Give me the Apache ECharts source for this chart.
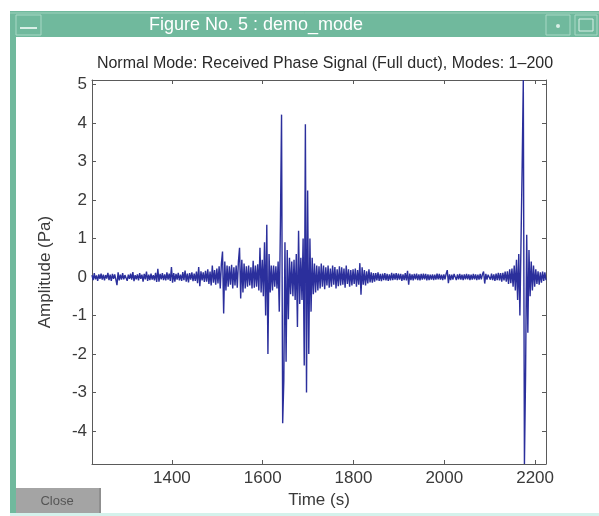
<!DOCTYPE html>
<html>
<head>
<meta charset="utf-8">
<script src="https://cdn.jsdelivr.net/npm/echarts@6/dist/echarts.min.js"></script>
<style>
  html, body { margin: 0; padding: 0; background: #ffffff; }
  #chart { width: 599px; height: 516px; }
</style>
</head>
<body>
<div id="chart"></div>
<script>
// Received phase signal, sampled every 2.5 s from t = 1224 s to t = 2224 s
const startTime = 1224;
const sampleStep = 2.5;

const amplitude = [
  // 1224 s
  0.05,-0.08,0.1,-0.06,0.04,-0.1,0.07,-0.05,0.09,-0.07,
  0.06,-0.09,0.05,-0.04,0.11,-0.08,0.06,-0.1,0.08,-0.05,
  0.07,-0.06,-0.21,0.12,-0.09,0.06,-0.07,0.1,-0.06,0.05,
  0.08,-0.1,0.06,-0.05,0.09,-0.07,0.13,-0.11,0.05,-0.06,
  0.07,-0.09,0.1,-0.05,0.06,-0.12,0.08,-0.06,0.14,-0.1,
  0.06,-0.08,0.09,-0.07,0.05,-0.09,0.11,-0.13,0.21,-0.12,
  0.08,-0.06,0.1,-0.08,0.07,-0.09,0.12,-0.07,0.09,-0.1,
  // 1399 s
  0.26,-0.15,0.1,-0.12,0.08,-0.07,0.11,-0.09,0.06,-0.1,
  0.13,-0.08,0.17,-0.12,0.09,-0.14,0.1,-0.07,0.12,-0.11,
  0.09,-0.1,0.14,-0.16,0.26,-0.24,0.15,-0.09,0.12,-0.13,
  0.16,-0.12,0.2,-0.18,0.14,-0.22,0.3,-0.15,0.18,-0.2,
  0.22,-0.17,0.28,-0.3,0.35,0.66,-0.95,0.4,-0.35,0.3,
  -0.25,0.28,-0.2,0.32,-0.3,0.25,-0.22,0.3,-0.28,0.4,
  0.76,-0.56,0.45,-0.4,0.35,-0.3,0.28,-0.25,0.3,-0.22,
  0.25,-0.3,0.42,-0.28,0.3,-0.25,0.33,-0.35,0.76,-0.4,
  // 1599 s
  0.45,-0.5,0.9,-1.0,1.36,-2.0,0.6,-0.4,0.3,-0.35,
  0.3,-0.25,0.28,-0.3,0.4,-0.9,1.35,4.22,-3.8,-2.7,
  0.9,-2.2,0.7,-1.1,0.5,-0.45,0.4,-0.5,0.45,-0.6,
  0.6,-1.3,1.2,-0.7,0.5,-0.6,1.0,-2.3,3.97,-3.0,
  2.25,-2.0,1.0,-0.9,0.5,-0.45,0.35,-0.4,0.3,-0.35,
  0.28,-0.3,0.35,-0.25,0.3,-0.32,0.25,-0.22,0.3,-0.28,
  0.22,-0.25,0.3,-0.2,0.26,-0.3,0.2,-0.24,0.28,-0.22,
  0.25,-0.2,0.22,-0.28,0.3,-0.18,0.2,-0.25,0.18,-0.22,
  // 1799 s
  0.2,-0.18,0.22,-0.25,0.18,-0.2,0.36,-0.46,0.25,-0.2,
  0.18,-0.22,0.15,-0.17,0.2,-0.14,0.12,-0.15,0.1,-0.12,
  0.1,-0.09,0.12,-0.1,0.08,-0.11,0.09,-0.08,0.1,-0.09,
  0.08,-0.1,0.07,-0.09,0.11,-0.08,0.09,-0.07,0.1,-0.08,
  0.09,-0.07,0.08,-0.1,0.07,-0.08,0.1,-0.09,0.16,-0.2,
  0.09,-0.08,0.07,-0.09,0.08,-0.06,0.09,-0.08,0.07,-0.09,
  0.08,-0.07,0.09,-0.06,0.08,-0.09,0.07,-0.08,0.06,-0.07,
  0.07,-0.08,0.06,-0.07,0.09,-0.06,0.08,-0.07,0.06,-0.08,
  // 1999 s
  0.07,-0.06,0.08,0.18,-0.16,0.07,-0.08,0.06,-0.07,0.08,
  0.06,-0.08,0.07,-0.06,0.08,-0.07,0.06,-0.08,0.07,-0.06,
  0.08,-0.06,0.07,-0.08,0.06,-0.07,0.08,-0.06,0.07,-0.08,
  0.06,-0.07,0.08,-0.06,0.07,0.14,-0.17,0.08,-0.07,0.06,
  0.08,-0.07,0.09,-0.08,0.07,-0.1,0.09,-0.08,0.11,-0.09,
  0.1,-0.12,0.11,-0.09,0.14,-0.12,0.15,-0.18,0.2,-0.16,
  0.22,-0.25,0.3,-0.35,0.45,-0.6,0.6,-1.0,0.95,2.9,
  5.12,-4.86,-2.55,1.1,-1.45,0.7,-0.5,0.4,-0.35,0.3,
  // 2199 s
  -0.25,0.2,-0.18,0.15,-0.2,0.12,-0.15,0.14,-0.1,0.12,
  -0.08
];

const timeRange = [1224, 2224];
const amplitudeRange = [-4.86, 5.12];
const timeTicks = [1400, 1600, 1800, 2000, 2200];
const amplitudeTicks = [-4, -3, -2, -1, 0, 1, 2, 3, 4, 5];

const chartTitle = 'Normal Mode: Received Phase Signal (Full duct), Modes: 1\u2013200';
const windowTitle = 'Figure No. 5 : demo_mode';
const xName = 'Time (s)';
const yName = 'Amplitude (Pa)';

const signal = amplitude.map((v, i) => [startTime + i * sampleStep, v]);

const frameColor = '#70b99d';
const axisColor = '#5a5a5a';
const textColor = '#3a3a3a';
const font = 'Liberation Sans';

const chart = echarts.init(document.getElementById('chart'), null, { renderer: 'canvas' });

const tickSide = {
  show: true, inside: true, length: 4,
  lineStyle: { color: axisColor, width: 1 }
};
const boxLine = { show: true, onZero: false, lineStyle: { color: axisColor, width: 1 } };
const plain = v => String(v);

chart.setOption({
  animation: false,
  backgroundColor: '#ffffff',
  title: {
    text: chartTitle,
    left: 320, top: 51, textAlign: 'center',
    textStyle: { fontFamily: font, fontSize: 16, fontWeight: 'normal', color: '#2a2a2a' }
  },
  grid: { left: 92, right: 53, top: 80, bottom: 52, show: false },
  xAxis: [
    {
      type: 'value', min: timeRange[0], max: timeRange[1], position: 'bottom',
      name: xName, nameLocation: 'middle', nameGap: 28,
      nameTextStyle: { fontFamily: font, fontSize: 17, color: textColor },
      axisLine: boxLine,
      axisTick: Object.assign({ customValues: timeTicks }, tickSide),
      axisLabel: { customValues: timeTicks, formatter: plain, fontFamily: font, fontSize: 17, color: textColor, margin: 6 },
      splitLine: { show: false }
    },
    {
      type: 'value', min: timeRange[0], max: timeRange[1], position: 'top',
      axisLine: boxLine,
      axisTick: Object.assign({ customValues: timeTicks }, tickSide),
      axisLabel: { show: false },
      splitLine: { show: false }
    }
  ],
  yAxis: [
    {
      type: 'value', min: amplitudeRange[0], max: amplitudeRange[1], position: 'left',
      name: yName, nameLocation: 'middle', nameGap: 38, nameRotate: 90,
      nameTextStyle: { fontFamily: font, fontSize: 17, color: textColor },
      axisLine: boxLine,
      axisTick: Object.assign({ customValues: amplitudeTicks }, tickSide),
      axisLabel: { customValues: amplitudeTicks, formatter: plain, fontFamily: font, fontSize: 17, color: textColor, margin: 5 },
      splitLine: { show: false }
    },
    {
      type: 'value', min: amplitudeRange[0], max: amplitudeRange[1], position: 'right',
      axisLine: boxLine,
      axisTick: Object.assign({ customValues: amplitudeTicks }, tickSide),
      axisLabel: { show: false },
      splitLine: { show: false }
    }
  ],
  series: [{
    type: 'line',
    data: signal,
    xAxisIndex: 0, yAxisIndex: 0,
    showSymbol: false,
    lineStyle: { color: '#2b2f9c', width: 1.4 },
    clip: true
  }],
  graphic: [
    // window title bar and left frame
    { type: 'rect', shape: { x: 10, y: 11, width: 589, height: 26 }, style: { fill: frameColor } },
    { type: 'rect', shape: { x: 10, y: 11, width: 6, height: 505 }, style: { fill: frameColor } },
    { type: 'line', shape: { x1: 10, y1: 13, x2: 599, y2: 13 }, style: { stroke: '#9ed2bd', lineWidth: 1 } },
    // window menu button
    { type: 'rect', shape: { x: 16, y: 15, width: 25, height: 20 }, style: { fill: 'none', stroke: '#a8d8c5', lineWidth: 1 } },
    { type: 'line', shape: { x1: 20, y1: 28, x2: 37, y2: 28 }, style: { stroke: '#d9efe6', lineWidth: 2 } },
    // minimize / maximize buttons
    { type: 'rect', shape: { x: 546, y: 15, width: 24, height: 20 }, style: { fill: 'none', stroke: '#a8d8c5', lineWidth: 1 } },
    { type: 'circle', shape: { cx: 558, cy: 26, r: 2 }, style: { fill: '#d9efe6' } },
    { type: 'rect', shape: { x: 575, y: 15, width: 22, height: 20 }, style: { fill: 'none', stroke: '#a8d8c5', lineWidth: 1 } },
    { type: 'rect', shape: { x: 579, y: 19, width: 14, height: 12 }, style: { fill: 'none', stroke: '#d9efe6', lineWidth: 1 } },
    // window title
    { type: 'text', style: { text: windowTitle, x: 256, y: 25, fill: '#ffffff', font: '18px "Liberation Sans"', textAlign: 'center', textVerticalAlign: 'middle' } },
    // close button
    { type: 'rect', shape: { x: 16, y: 488, width: 85, height: 25 }, style: { fill: '#a4a4a4' } },
    { type: 'line', shape: { x1: 100, y1: 488, x2: 100, y2: 513 }, style: { stroke: '#7a7a7a', lineWidth: 1 } },
    { type: 'text', style: { text: 'Close', x: 57, y: 501, fill: '#555555', font: '13px "Liberation Sans"', textAlign: 'center', textVerticalAlign: 'middle' } },
    // bottom frame edge
    { type: 'rect', shape: { x: 10, y: 513, width: 589, height: 3 }, style: { fill: '#d4f2ec' } }
  ]
});
</script>
</body>
</html>
